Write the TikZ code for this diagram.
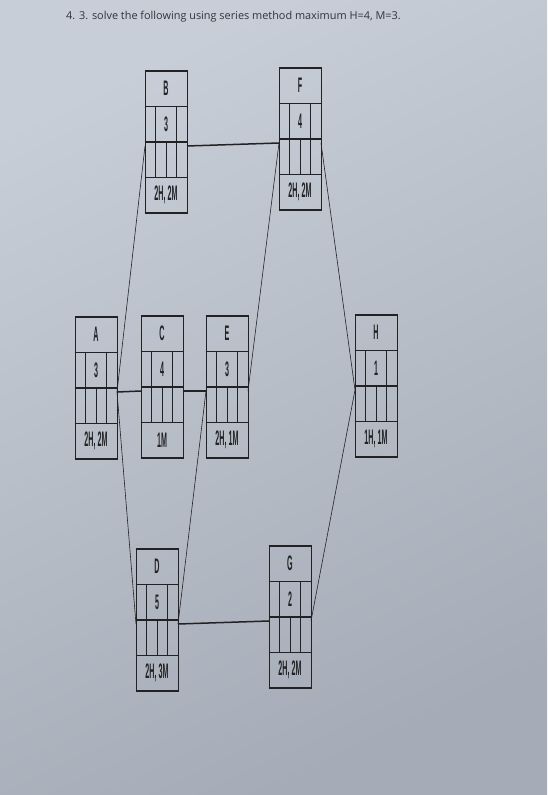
\documentclass[tikz,border=0pt]{standalone}
\usepackage{fontspec}
\usepackage{graphicx}
\setmainfont{Open Sans}
\newfontfamily\boxfont{Liberation Sans}
\usetikzlibrary{calc}
\definecolor{bgtop}{RGB}{200,206,215}
\definecolor{bgbot}{RGB}{166,172,183}
\definecolor{ink}{RGB}{34,34,36}
\definecolor{titleink}{RGB}{50,52,56}
\newcommand\boxtxt[1]{\scalebox{0.34}[1]{\boxfont\fontsize{21}{21}\selectfont\bfseries #1}}
\tikzset{
  tbox/.style={draw=ink, line width=0.7pt, minimum width=42pt, minimum height=142pt, inner sep=0pt, outer sep=0pt, anchor=north west},
  rowline/.style={draw=ink, line width=1.6pt},
  colline/.style={draw=ink, line width=0.7pt},
  boxlabel/.style={inner sep=0pt, text=ink},
  thinlink/.style={draw=ink, line width=0.6pt},
  thicklink/.style={draw=ink, line width=1.5pt},
  titletext/.style={anchor=west, inner sep=0pt, text=titleink, font=\fontsize{10.9}{12}\selectfont},
}
\newcommand\taskbox[6]{%
  \node[tbox] (#1) at (#2,#3) {};
  \foreach \k in {0,1,2,3,4}{\draw[rowline] ($(#1.north west)+(-0.5,\k*35.5)$) -- ($(#1.north east)+(0.5,\k*35.5)$);}
  \draw[colline] ($(#1.north west)+(10.5,35.5)$) -- ++(0,35.5);
  \draw[colline] ($(#1.north west)+(31.5,35.5)$) -- ++(0,35.5);
  \draw[colline] ($(#1.north west)+(10.5,71)$) -- ++(0,35.5);
  \draw[colline] ($(#1.north west)+(21,71)$) -- ++(0,35.5);
  \draw[colline] ($(#1.north west)+(31.5,71)$) -- ++(0,35.5);
  \node[boxlabel] (#1-name) at ($(#1.north)+(0,17.75)$) {\boxtxt{#4}};
  \node[boxlabel] (#1-dur) at ($(#1.north)+(0,53.25)$) {\boxtxt{#5}};
  \node[boxlabel] (#1-res) at ($(#1.north)+(0,124.25)$) {\boxtxt{#6}};
  \coordinate (#1-in) at ($(#1.north west)+(0,75)$);
  \coordinate (#1-out) at ($(#1.north east)+(0,75)$);
}
\begin{document}
\begin{tikzpicture}[x=1pt,y=-1pt]
\useasboundingbox (0,0) rectangle (547,795);
\shade[top color=bgtop, bottom color=bgbot, shading angle=25] (0,0) rectangle (547,795);
\node[titletext] (title) at (66,17) {4. 3. solve the following using series method maximum H=4, M=3.};
\taskbox{A}{75}{317}{A}{3}{2H, 2M}
\taskbox{B}{145}{71}{B}{3}{2H, 2M}
\taskbox{C}{141}{316}{C}{4}{1M}
\taskbox{D}{136}{549}{D}{5}{2H, 3M}
\taskbox{E}{206}{316}{E}{3}{2H, 1M}
\taskbox{F}{279}{68}{F}{4}{2H, 2M}
\taskbox{G}{269}{546}{G}{2}{2H, 2M}
\taskbox{H}{355}{315}{H}{1}{1H, 1M}
\draw[thinlink] (A-out) -- (B-in);
\draw[thicklink] (A-out) -- (C-in);
\draw[thinlink] (A-out) -- (D-in);
\draw[thicklink] (B-out) -- (F-in);
\draw[thicklink] (C-out) -- (E-in);
\draw[thinlink] (D-out) -- (E-in);
\draw[thicklink] (D-out) -- (G-in);
\draw[thinlink] (E-out) -- (F-in);
\draw[thinlink] (F-out) -- (H-in);
\draw[thinlink] (G-out) -- (H-in);
\end{tikzpicture}
\end{document}
